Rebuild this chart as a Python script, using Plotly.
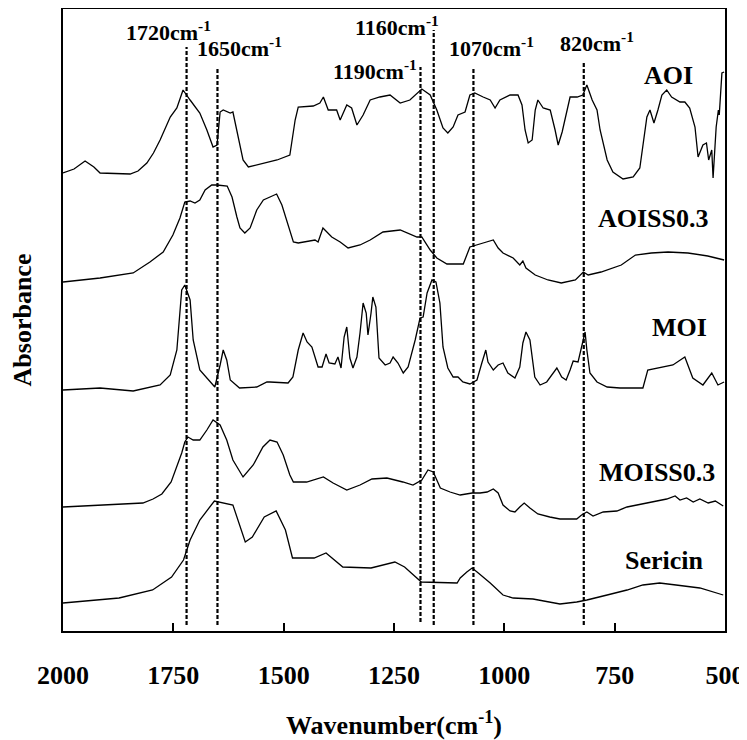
import plotly.graph_objects as go

# wavenumbers (cm-1) and stacked absorbance (a.u.)
aoi_x = [2000, 1975, 1950, 1930, 1916, 1848, 1830, 1810, 1795, 1780, 1757, 1742, 1735, 1728, 1712, 1690,
         1674, 1660, 1651, 1644, 1637, 1621, 1615, 1606, 1592, 1580, 1561, 1515, 1486, 1474, 1467, 1433,
         1418, 1410, 1399, 1380, 1372, 1357, 1346, 1334, 1320, 1304, 1282, 1259, 1236, 1214, 1187, 1168,
         1153, 1139, 1128, 1116, 1105, 1089, 1078, 1067, 1048, 1032, 1021, 1010, 987, 969, 960, 953, 946,
         937, 930, 924, 912, 896, 885, 878, 869, 858, 851, 835, 822, 813, 801,
         790, 783, 767, 754, 731, 708, 693, 686, 677, 670, 661, 652, 643, 632, 621, 602, 591, 580, 568,
         561, 550, 542, 537, 530, 527, 520, 515, 513, 507, 502]
aoi_y = [458, 462, 470, 464, 458, 457, 460, 468, 478, 491, 514, 523, 532, 541, 531, 518,
         501, 484, 486, 519, 521, 518, 519, 501, 471, 464, 466, 471, 476, 511, 524, 525,
         528, 534, 521, 521, 511, 526, 523, 506, 516, 531, 534, 536, 528, 531, 542, 536,
         521, 503, 498, 504, 516, 519, 536, 538, 534, 531, 523, 531, 536, 536, 526, 501, 488,
         491, 521, 531, 523, 521, 501, 486, 499, 521, 534, 534, 536, 546, 531,
         521, 501, 471, 459, 452, 454, 463, 484, 514, 521, 508, 521, 536, 541, 534, 529, 529, 523, 504,
         474, 486, 488, 471, 481, 453, 504, 521, 516, 558, 559]

aoiss_x = [2000, 1916, 1841, 1803, 1773, 1751, 1735, 1724, 1712, 1701, 1690, 1678, 1663, 1651, 1628,
           1617, 1606, 1599, 1588, 1576, 1561, 1546, 1531, 1516, 1504, 1493, 1478, 1467, 1440, 1429,
           1422, 1411, 1391, 1372, 1354, 1327, 1304, 1275, 1236, 1198, 1187, 1168, 1153, 1130, 1093,
           1078, 1048, 1025, 1014, 1003, 980, 965, 958, 951, 930, 901, 871, 839, 821, 810, 781, 735,
           703, 667, 629, 584, 539, 502]
aoiss_y = [349, 353, 358, 369, 379, 396, 413, 429, 430, 428, 431, 441, 446, 446, 445,
           434, 414, 403, 398, 403, 421, 431, 434, 437, 426, 411, 389, 388, 390, 391,
           389, 403, 394, 389, 383, 386, 391, 399, 401, 394, 394, 381, 373, 367, 367,
           384, 388, 391, 383, 378, 373, 366, 370, 363, 356, 351, 348, 351, 359, 356, 359, 366,
           376, 378, 379, 378, 375, 371]

moi_x = [2000, 1916, 1841, 1780, 1757, 1742, 1731, 1724, 1712, 1705, 1690, 1671, 1656, 1644, 1637,
         1629, 1621, 1600, 1561, 1538, 1531, 1490, 1479, 1467, 1456, 1447, 1436, 1422, 1413, 1404,
         1397, 1384, 1377, 1370, 1363, 1357, 1350, 1343, 1334, 1327, 1320, 1313, 1309, 1302, 1298,
         1291, 1284, 1270, 1259, 1252, 1241, 1229, 1218, 1202, 1191, 1184, 1175, 1164, 1155, 1146,
         1139, 1128, 1116, 1105, 1094, 1078, 1062, 1051, 1042, 1037, 1025, 1014, 1003, 992, 976,
         965, 958, 951, 942, 931, 919, 904, 890, 881, 870, 860, 851, 844, 833, 825, 817, 813, 806,
         790, 767, 738, 686, 675, 654, 618, 591, 573, 550, 530, 516, 502]
moi_y = [241, 243, 240, 246, 256, 281, 341, 346, 331, 291, 261, 251, 244, 266, 281,
         271, 251, 243, 244, 249, 249, 248, 254, 281, 298, 289, 284, 264, 264, 277,
         268, 267, 274, 263, 294, 304, 273, 263, 274, 298, 328, 318, 296, 318, 334,
         324, 273, 266, 268, 274, 268, 258, 264, 291, 313, 314, 338, 351, 349, 328,
         284, 263, 254, 254, 249, 247, 251, 268, 281, 269, 261, 266, 268, 258, 253,
         264, 288, 299, 291, 254, 246, 249, 258, 263, 254, 251, 261, 270, 269, 284, 299, 281, 258,
         249, 244, 243, 243, 261, 263, 266, 274, 253, 246, 258, 246, 249]

moiss_x = [2000, 1900, 1819, 1796, 1776, 1755, 1731, 1724, 1717, 1705, 1690, 1674, 1660, 1644, 1629,
           1615, 1592, 1569, 1547, 1531, 1515, 1501, 1486, 1478, 1448, 1410, 1388, 1357, 1327, 1300,
           1266, 1230, 1207, 1187, 1173, 1161, 1145, 1123, 1100, 1073, 1055, 1039, 1025, 1014, 1003,
           987, 976, 965, 955, 942, 924, 897, 874, 836, 825, 813, 799, 776, 745, 722,
           700, 663, 632, 613, 602, 587, 572, 557, 538, 522, 504]
moiss_y = [124, 126, 128, 132, 137, 149, 178, 189, 194, 191, 191, 201, 211, 206, 191,
           171, 154, 166, 184, 191, 189, 176, 156, 149, 149, 154, 148, 141, 146, 152,
           153, 149, 146, 151, 161, 159, 143, 139, 136, 138, 138, 139, 142, 138, 126,
           120, 119, 124, 128, 123, 117, 114, 112, 112, 116, 119, 115, 119, 120, 124,
           126, 129, 132, 135, 131, 133, 129, 132, 128, 130, 125]

sericin_x = [2000, 1873, 1797, 1754, 1727, 1712, 1690, 1657, 1615, 1603, 1587, 1571, 1544, 1517, 1496,
             1480, 1431, 1404, 1366, 1302, 1248, 1226, 1188, 1107, 1100, 1085, 1073, 1059, 1032, 1003,
             980, 935, 874, 836, 813, 767, 722, 686, 648, 611, 557, 504]
sericin_y = [28, 33, 41, 54, 71, 91, 111, 130, 126, 111, 89, 94, 114, 120, 101,
             73, 73, 78, 64, 63, 69, 64, 49, 48, 53, 59, 63, 58, 48, 36,
             33, 32, 27, 29, 31, 36, 41, 46, 48, 46, 43, 36]

series_names = ["AOI", "AOISS0.3", "MOI", "MOISS0.3", "Sericin"]

# marked bands
peak_pos = [1720, 1650, 1190, 1160, 1070, 820]
peak_top = [584, 563, 564, 601, 563, 570]
peak_bottom = [6, 6, 9, 6, 6, 6]
peak_labels = ["1720cm<sup>-1</sup>", "1650cm<sup>-1</sup>", "1190cm<sup>-1</sup>",
               "1160cm<sup>-1</sup>", "1070cm<sup>-1</sup>", "820cm<sup>-1</sup>"]

tick_vals = [2000, 1750, 1500, 1250, 1000, 750, 500]

serif = "Liberation Serif"

fig = go.Figure()

for xs, ys, nm in zip([aoi_x, aoiss_x, moi_x, moiss_x, sericin_x],
                      [aoi_y, aoiss_y, moi_y, moiss_y, sericin_y], series_names):
    fig.add_trace(go.Scatter(x=xs, y=ys, mode='lines', name=nm,
                             line=dict(color='black', width=1.3)))

for p, top, bot in zip(peak_pos, peak_top, peak_bottom):
    fig.add_trace(go.Scatter(x=[p, p], y=[bot, top], mode='lines',
                             line=dict(color='black', width=2.2, dash='4px,2px')))

# label positions (wavenumber, height)
peak_label_xy = [(1762, 600), (1601, 584), (1293, 561), (1243, 605), (1028, 584), (790, 589)]
for txt, (lx, ly) in zip(peak_labels, peak_label_xy):
    fig.add_annotation(x=lx, y=ly, text=txt, showarrow=False,
                       font=dict(family=serif, size=22, color='black', weight='bold'))

name_xy = [(627, 556), (663, 413), (602, 304), (654, 159), (636, 71)]
for nm, (lx, ly) in zip(series_names, name_xy):
    fig.add_annotation(x=lx, y=ly, text=nm, showarrow=False,
                       font=dict(family=serif, size=26, color='black', weight='bold'))

# the page body adds an 8px offset, so the figure is 8px smaller than the window
fig.update_layout(
    width=739, height=732,
    margin=dict(l=55, r=22, t=1, b=109),
    plot_bgcolor='white', paper_bgcolor='white',
    showlegend=False,
)
fig.update_xaxes(
    range=[2000, 500], tickvals=tick_vals, automargin=False,
    showline=True, mirror=True, linecolor='black', linewidth=2,
    ticks='inside', ticklen=8, tickwidth=1.5, tickcolor='black',
    ticklabelstandoff=20, showgrid=False, zeroline=False,
    tickfont=dict(family=serif, size=26, color='black', weight='bold'),
    title=dict(text="Wavenumber(cm<sup>-1</sup>)", standoff=31,
               font=dict(family=serif, size=26, color='black', weight='bold')),
)
fig.update_yaxes(
    range=[0, 622], showticklabels=False, ticks='', automargin=False,
    showline=True, mirror=True, linecolor='black', linewidth=1.5,
    showgrid=False, zeroline=False,
    title=dict(text="Absorbance", standoff=24,
               font=dict(family=serif, size=26, color='black', weight='bold')),
)

fig.write_html("out.html")
